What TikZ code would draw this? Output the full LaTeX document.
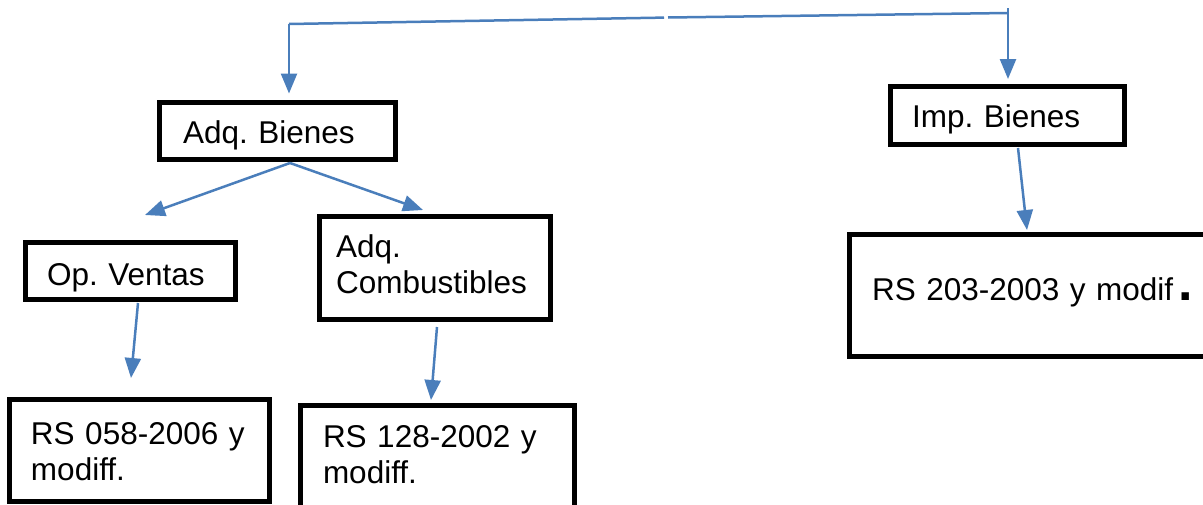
\documentclass[tikz,border=0pt]{standalone}
\usepackage{fontspec}
\setmainfont{Liberation Sans}
\frenchspacing
\usetikzlibrary{arrows.meta,calc}
\definecolor{lnblue}{RGB}{74,126,187}
\begin{document}
\begin{tikzpicture}[x=0.5pt,y=-0.5pt,
  box/.style={draw=black, line width=2.5pt, rectangle, align=left, outer sep=0pt, inner ysep=0pt,
    font=\fontsize{15.75pt}{18pt}\selectfont\frenchspacing},
  conn/.style={draw=lnblue, line width=1.25pt, -{Triangle[length=10pt,width=8pt]}},
  plain/.style={draw=lnblue, line width=1.25pt}]
\useasboundingbox (0,0) rectangle (1203,504);
\clip (0,0) rectangle (1203,504);
% boxes
\node[box, minimum width=118pt, minimum height=28.5pt, inner xsep=11.75pt, text width=94.5pt,
  text height=12pt, text depth=0pt] (ab) at (277.5,131) {Adq. Bienes};
\node[box, minimum width=117pt, minimum height=28.75pt, inner xsep=10.75pt, text width=95.5pt,
  text height=11.75pt, text depth=0pt] (ib) at (1007.5,115.25) {Imp. Bienes};
\node[box, minimum width=105pt, minimum height=28.5pt, inner xsep=10.75pt, text width=83.5pt,
  text height=14pt, text depth=0pt] (ov) at (130.5,271) {Op. Ventas};
\node[box, minimum width=115.5pt, minimum height=51.5pt, inner xsep=8.25pt, text width=99pt,
  text height=14.5pt, text depth=25pt] (ac) at (435,268) {Adq.\\Combustibles};
\node[box, minimum width=130pt, minimum height=51pt, inner xsep=10.75pt, text width=108.5pt,
  text height=18.5pt, text depth=25pt] (r1) at (139.5,450.5) {RS 058-2006 y\\modiff.};
\node[box, minimum width=137pt, minimum height=57.25pt, inner xsep=11.25pt, text width=114.5pt,
  text height=14.25pt, text depth=30pt] (r2) at (437.5,462.75) {RS 128-2002 y\\modiff.};
\node[box, minimum width=185.25pt, minimum height=61pt, inner xsep=11.25pt, text width=162.75pt,
  text height=10pt, text depth=5.5pt] (r3) at (1034.75,295.5)
  {RS 203-2003 y modif\hspace{2.5pt}{\fontsize{26pt}{26pt}\selectfont\bfseries .}};
% top connector
\coordinate (tl) at (289,24);
\coordinate (gl) at (664,17.6);
\coordinate (gr) at (668,17.5);
\coordinate (tr) at (1008,13);
\coordinate (trtop) at (1008,8);
\draw[plain] (tl) -- (gl);
\draw[plain] (gr) -- (tr);
\draw[conn, shorten >=4.5pt] (tl) -- (tl |- ab.north);
\draw[conn, shorten >=3.75pt] (trtop) -- (trtop |- ib.north);
% branches
\coordinate (abs) at ($(ab.south)+(12.5,3.5)$);
\coordinate (ovt) at (145,215);
\coordinate (act) at (423,210);
\draw[conn] (abs) -- (ovt);
\draw[conn] (abs) -- (act);
\coordinate (ovs) at ($(ov.south)+(7.5,3.5)$);
\coordinate (r1t) at (131,378);
\draw[conn] (ovs) -- (r1t);
\coordinate (acs) at ($(ac.south)+(2,7.5)$);
\coordinate (r2t) at (431,400);
\draw[conn] (acs) -- (r2t);
\coordinate (ibs) at ($(ib.south)+(10.5,4)$);
\coordinate (r3t) at (1027,230);
\draw[conn] (ibs) -- (r3t);
\end{tikzpicture}
\end{document}
